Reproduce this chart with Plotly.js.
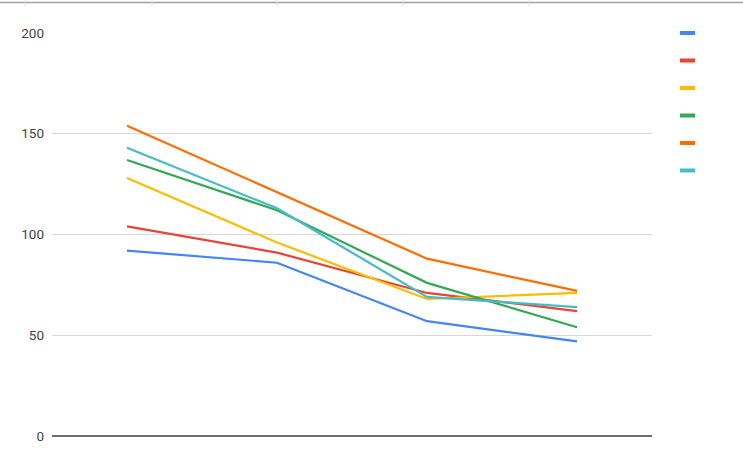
<!DOCTYPE html>
<html>
<head>
<meta charset="utf-8">
<script src="https://cdn.plot.ly/plotly-3.0.1.min.js"></script>
<style>
  html, body { margin: 0; padding: 0; background: #ffffff; }
  #chart { width: 743px; height: 465px; }
</style>
</head>
<body>
<div id="chart"></div>
<script>
// Data
const categories = ['1', '2', '3', '4'];
const series1 = [92, 86, 57, 47];
const series2 = [104, 91, 71, 62];
const series3 = [128, 96, 68, 71];
const series4 = [137, 112, 76, 54];
const series5 = [154, 121, 88, 72];
const series6 = [143, 113, 69, 64];
const yTickValues = [0, 50, 100, 150, 200];
const yTickLabels = ['0', '50', '100', '150', '200'];

const allSeries = [series1, series2, series3, series4, series5, series6];
const colors = ['#4285F4', '#EA4335', '#FBBC04', '#34A853', '#FF6D01', '#46BDC6'];

const traces = allSeries.map((vals, i) => ({
  type: 'scatter',
  mode: 'lines',
  x: categories,
  y: vals,
  name: '',
  line: { color: colors[i], width: 2.2 },
  hoverinfo: 'skip',
  showlegend: false
}));

// Legend glyphs (the reference legend has colour swatches without text)
const shapes = [];
colors.forEach((c, i) => {
  const yTop = 31 + i * 27.5;
  shapes.push({
    type: 'rect', xref: 'paper', yref: 'paper',
    x0: (680 - 52) / 600, x1: (695 - 52) / 600,
    y0: (436 - (yTop + 4)) / 403, y1: (436 - yTop) / 403,
    fillcolor: c, line: { width: 0 }
  });
});
// Spreadsheet frame remnants at the top of the image
shapes.push({
  type: 'line', xref: 'paper', yref: 'paper',
  x0: -52 / 600, x1: 691 / 600, y0: (436 - 2.5) / 403, y1: (436 - 2.5) / 403,
  line: { color: '#9e9e9e', width: 1.5 }
});
[25, 152, 277, 403, 529].forEach(px => {
  shapes.push({
    type: 'line', xref: 'paper', yref: 'paper',
    x0: (px - 52) / 600, x1: (px - 52) / 600, y0: 436 / 403, y1: (436 - 6) / 403,
    line: { color: '#e0e0e0', width: 1 }
  });
});

const layout = {
  width: 743,
  height: 465,
  margin: { l: 52, r: 91, t: 33, b: 29, pad: 0 },
  paper_bgcolor: '#ffffff',
  plot_bgcolor: '#ffffff',
  showlegend: false,
  font: { family: 'Roboto, Arial, sans-serif', size: 13, color: '#444444' },
  xaxis: {
    type: 'category',
    range: [-0.5, 3.5],
    showticklabels: false,
    showgrid: false,
    zeroline: false,
    showline: false,
    ticks: '',
    fixedrange: true
  },
  yaxis: {
    range: [0, 200],
    tickvals: yTickValues,
    ticktext: yTickLabels,
    showgrid: true,
    gridcolor: '#d9d6dc',
    gridwidth: 1,
    zeroline: true,
    zerolinecolor: '#6e6e6e',
    zerolinewidth: 1.5,
    showline: false,
    ticks: '',
    ticklabelstandoff: 7,
    tickfont: { family: 'Roboto, Arial, sans-serif', size: 13.5, color: '#444444' },
    fixedrange: true
  },
  shapes: shapes
};

Plotly.newPlot('chart', traces, layout, { displayModeBar: false, staticPlot: true });
</script>
</body>
</html>
